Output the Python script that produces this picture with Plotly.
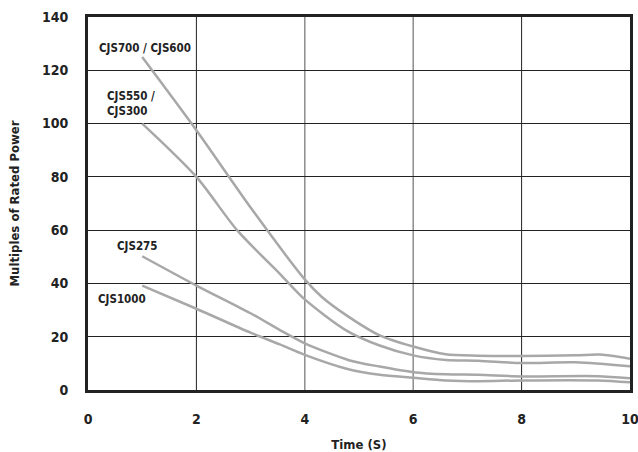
import plotly.graph_objects as go

# ---- data ----
x_700_600 = [1, 2, 3, 4, 4.31, 4.77, 5.38, 6, 6.6, 7.2, 8, 9, 9.45, 10]
y_700_600 = [125, 97.5, 68.5, 41.5, 35, 28, 20.5, 16.3, 13.4, 12.9, 12.8, 13, 13.3, 11.7]

x_550_300 = [1, 2, 2.75, 3.54, 4, 4.77, 5.38, 6, 6.6, 7.2, 8, 9, 10]
y_550_300 = [100, 80, 60, 43.6, 34, 22.3, 16.7, 13, 11.3, 11, 10.1, 10.4, 8.9]

x_275 = [1, 2, 3, 3.54, 4, 4.83, 5.38, 6, 6.6, 7.2, 8, 9.4, 10]
y_275 = [50.2, 39.2, 28.8, 22.5, 17.5, 11.1, 8.8, 6.7, 5.9, 5.7, 5.1, 5.2, 4.4]

x_1000 = [1, 2, 3, 3.54, 4, 4.77, 5.38, 6, 6.6, 7.2, 8, 9.4, 10]
y_1000 = [39.2, 30.5, 21.5, 17.1, 13.2, 8, 5.7, 4.6, 3.6, 3.3, 3.6, 3.6, 2.9]

series_x = [x_700_600, x_550_300, x_275, x_1000]
series_y = [y_700_600, y_550_300, y_275, y_1000]

label_text = ["CJS700 / CJS600", "CJS550 /<br>CJS300", "CJS275", "CJS1000"]
label_x = [0.16, 0.31, 0.5, 0.155]
label_y = [128.4, 107.5, 53.9, 34.2]

x_ticks = [0, 2, 4, 6, 8, 10]
y_ticks = [0, 20, 40, 60, 80, 100, 120, 140]
x_grid_colors = ["#222", "#222", "#8c8c8c", "#8c8c8c", "#222", "#222"]

FONT = "DejaVu Sans Condensed, Liberation Sans Narrow, Liberation Sans, sans-serif"
LINE_COLOR = "#a8a8a8"

fig = go.Figure()
for xs, ys in zip(series_x, series_y):
    fig.add_trace(go.Scatter(x=xs, y=ys, mode="lines",
                             line=dict(color=LINE_COLOR, width=2.5, shape="spline", smoothing=0.8),
                             showlegend=False, hoverinfo="skip"))

for t, lx, ly in zip(label_text, label_x, label_y):
    fig.add_annotation(x=lx, y=ly, text=t, showarrow=False, xanchor="left",
                       yanchor="middle", align="left",
                       font=dict(family=FONT, size=11.5, color="#222", weight="bold"))

# vertical grid lines (some print grey in the original)
for gx, gc in zip(x_ticks[1:-1], x_grid_colors[1:-1]):
    fig.add_shape(type="line", x0=gx, x1=gx, y0=0, y1=140, xref="x", yref="y",
                  line=dict(color=gc, width=1.5 if gc != "#222" else 1), layer="below")

tickfont = dict(family=FONT, size=14, color="#222", weight="bold")
titlefont = dict(family=FONT, size=13, color="#222", weight="bold")

fig.update_layout(
    width=638, height=452,
    margin=dict(l=88, r=8, t=17, b=62, autoexpand=False),
    plot_bgcolor="white", paper_bgcolor="white",
    font=dict(family=FONT, color="#222", weight="bold"),
    showlegend=False,
)
fig.update_xaxes(
    range=[0, 10], tickvals=x_ticks, ticktext=[str(v) for v in x_ticks],
    showgrid=False, automargin=False, ticklabeloverflow="allow",
    showline=True, linecolor="#222", linewidth=3, mirror=True,
    ticks="outside", ticklen=14, tickcolor="rgba(0,0,0,0)",
    tickfont=tickfont,
    title=dict(text="Time (S)", standoff=18, font=titlefont),
    zeroline=False,
)
fig.update_yaxes(
    range=[0, 140], tickvals=y_ticks, ticktext=[str(v) for v in y_ticks],
    showgrid=True, gridcolor="#222", gridwidth=1, automargin=False,
    ticklabeloverflow="allow",
    showline=True, linecolor="#222", linewidth=3, mirror=True,
    ticks="outside", ticklen=14, tickcolor="rgba(0,0,0,0)",
    tickfont=tickfont,
    title=dict(text="Multiples of Rated Power", standoff=20, font=titlefont),
    zeroline=False,
)

fig.write_html("out.html")
